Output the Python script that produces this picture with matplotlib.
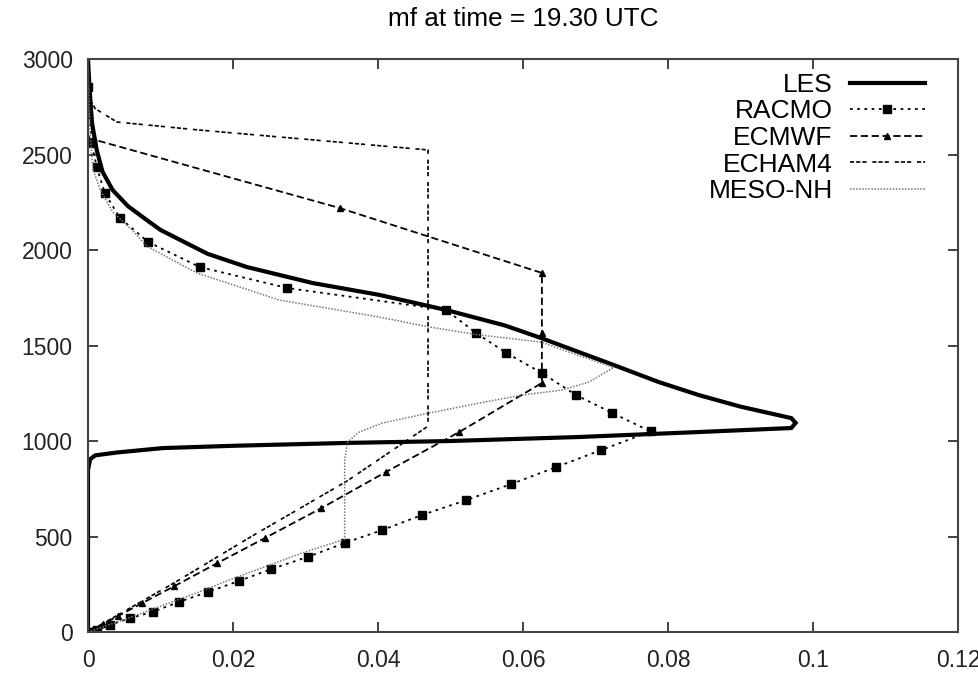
import matplotlib
matplotlib.use("Agg")
import matplotlib.pyplot as plt

plt.rcParams["font.family"] = ["Liberation Sans", "DejaVu Sans"]

# ── Mass-flux profiles (mf, height in m) ────────────────────────────────────
les_mf = [0.0, 0.0, 0.0, 0.0, 0.0003, 0.001, 0.004, 0.0103, 0.020, 0.0357,
          0.050, 0.0677, 0.0842, 0.0970, 0.0976, 0.0970, 0.0900, 0.0842,
          0.0787, 0.0725, 0.0625, 0.0575, 0.0494, 0.0402, 0.031, 0.0219,
          0.0165, 0.0127, 0.0100, 0.0081, 0.0055, 0.0034, 0.0020, 0.0012,
          0.00055, 0.0002, 0.0]
les_z = [0, 300, 600, 850, 905, 925, 940, 963, 975, 990,
         1000, 1021, 1047, 1068, 1095, 1120, 1180, 1241,
         1309, 1398, 1539, 1605, 1686, 1765, 1827, 1911,
         1980, 2053, 2105, 2157, 2230, 2314, 2410, 2524,
         2665, 2850, 3000]

racmo_mf = [0.0, 0.0012, 0.003, 0.0058, 0.0089, 0.0125, 0.0165, 0.0208,
            0.0253, 0.0303, 0.0354, 0.0406, 0.0461, 0.0522, 0.0584, 0.0646,
            0.0708, 0.0776, 0.0723, 0.0673, 0.0626, 0.0577, 0.0535, 0.0494,
            0.0275, 0.0154, 0.0083, 0.0044, 0.0023, 0.0012, 0.0005, 0.0, 0.0]
racmo_z = [0, 10, 37, 73, 105, 157, 209, 267,
           330, 393, 466, 534, 613, 691, 775, 864,
           953, 1050, 1147, 1241, 1356, 1461, 1566, 1686,
           1801, 1911, 2042, 2168, 2299, 2435, 2560, 2854, 3000]

ecmwf_mf = [0.0, 0.0005, 0.002, 0.0042, 0.0074, 0.0119, 0.0178, 0.0244,
            0.0322, 0.0411, 0.0512, 0.0626, 0.0626, 0.0626, 0.0347, 0.0, 0.0]
ecmwf_z = [0, 10, 40, 85, 150, 240, 360, 492,
           649, 838, 1047, 1304, 1566, 1880, 2220, 2587, 3000]

echam_mf = [0.0, 0.012, 0.0223, 0.0357, 0.0469, 0.0469, 0.030, 0.0154,
            0.004, 0.001, 0.0003, 0.0, 0.0]
echam_z = [0, 260, 495, 790, 1078, 2524, 2580, 2628,
           2670, 2740, 2786, 2850, 3000]

meso_mf = [0.0, 0.005, 0.010, 0.015, 0.020, 0.025, 0.030, 0.0354, 0.0354,
           0.0358, 0.0374, 0.0406, 0.0471, 0.054, 0.0599, 0.0654, 0.0691,
           0.0725, 0.0663, 0.0625, 0.054, 0.0471, 0.0402, 0.0264, 0.015,
           0.0081, 0.0062, 0.0034, 0.0017, 0.0007, 0.0003, 0.0]
meso_z = [0, 65, 135, 205, 280, 350, 420, 485, 900,
          995, 1047, 1094, 1147, 1199, 1241, 1267, 1309,
          1385, 1466, 1518, 1555, 1597, 1649, 1738, 1880,
          2020, 2100, 2200, 2314, 2420, 2600, 3000]

xticks = [0, 0.02, 0.04, 0.06, 0.08, 0.1, 0.12]
xtick_labels = ["0", "0.02", "0.04", "0.06", "0.08", "0.1", "0.12"]
yticks = [0, 500, 1000, 1500, 2000, 2500, 3000]

# ── Figure ──────────────────────────────────────────────────────────────────
fig = plt.figure(figsize=(9.79, 6.73), dpi=100)
ax = fig.add_axes([0.0899, 0.0609, 0.8887, 0.8514])

ax.plot(les_mf, les_z, color="black", linewidth=3.0,
        solid_joinstyle="miter", label="LES")
ax.plot(racmo_mf, racmo_z, color="black", linewidth=1.3,
        linestyle=(0, (1.5, 2.5)), marker="s", markersize=6,
        markevery=list(range(0, len(racmo_mf) - 1)), label="RACMO")
ax.plot(ecmwf_mf, ecmwf_z, color="black", linewidth=1.3,
        linestyle=(0, (4, 2)), marker="^", markersize=4,
        markevery=list(range(1, len(ecmwf_mf) - 1)), label="ECMWF")
ax.plot(echam_mf, echam_z, color="black", linewidth=1.2,
        linestyle=(0, (2.5, 1.2, 2.5, 1.2, 2.5, 3.5)), label="ECHAM4")
ax.plot(meso_mf, meso_z, color="#777777", linewidth=1.1,
        linestyle=(0, (1, 1)), label="MESO-NH")

ax.set_xlim(0, 0.12)
ax.set_ylim(0, 3000)
ax.set_xticks(xticks)
ax.set_xticklabels(xtick_labels)
ax.set_yticks(yticks)
ax.tick_params(direction="in", length=7, width=1.2, top=True, right=True,
               labelsize=16.5, colors="#222222")
ax.tick_params(axis="x", pad=12)
ax.tick_params(axis="y", pad=11)
for sp in ax.spines.values():
    sp.set_linewidth(1.5)
    sp.set_color("#444444")

ax.set_title("mf at time = 19.30 UTC", fontsize=18.8, pad=24)

leg = ax.legend(loc="upper right", bbox_to_anchor=(0.962, 0.976),
                frameon=False, markerfirst=False, fontsize=19,
                handlelength=2.85, handletextpad=0.65, labelspacing=0.1,
                borderpad=0, borderaxespad=0)

fig.savefig("out.png", dpi=100)
